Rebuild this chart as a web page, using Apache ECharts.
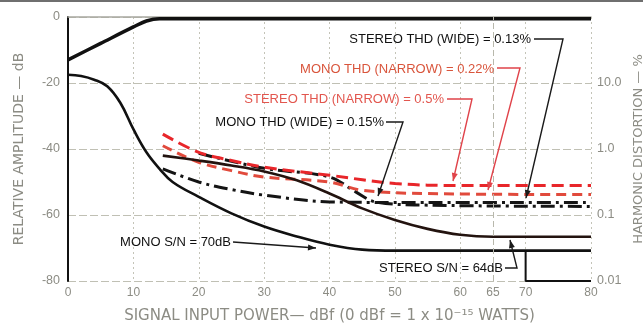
<!DOCTYPE html>
<html><head><meta charset="utf-8">
<script src="https://cdn.jsdelivr.net/npm/echarts@6/dist/echarts.min.js"></script>
<style>html,body{margin:0;padding:0;background:#fff}#c{width:643px;height:329px}</style>
</head><body><div id="c"></div>
<script>
// ---- data (x = signal input power, dBf) ----
const xTicks = [0, 10, 20, 30, 40, 50, 60, 70, 80];
const extraXTick = 65;
const leftTicks = [0, -20, -40, -60, -80];
const rightTickLabels = { 10: '10.0', 1: '1.0', 0.1: '0.1', 0.01: '0.01' };

// relative amplitude (dB, left axis)
const limitCurve = [[0,-13],[5,-8],[10,-3],[12,-1.2],[14,-0.5],[80,-0.5]];
const monoSN = [[0,-17.5],[2,-17.9],[4,-19],[6,-21],[8,-26],[10,-34],[12,-41],[14,-46],[16,-50],[20,-54.5],[25,-59.5],[30,-63.5],[35,-66.5],[40,-69],[45,-70.5],[50,-70.8],[80,-70.8]];
const stereoSN = [[14.5,-42],[20,-43.5],[25,-45],[30,-46.8],[35,-49.5],[40,-53.5],[45,-58],[50,-61.5],[55,-64.2],[60,-66],[65,-66.6],[80,-66.6]];
const stereoSNBox = [[70,-70.8],[70,-80],[80,-80]];

// harmonic distortion (%, right log axis)
const stereoTHDNarrow = [[14.5,1.68],[20,0.89],[25,0.67],[30,0.53],[40,0.40],[50,0.30],[60,0.28],[80,0.28]];
const monoTHDNarrow = [[14.5,1.12],[20,0.63],[25,0.47],[30,0.376],[40,0.316],[45,0.237],[55,0.211],[80,0.204]];
const monoTHDWide = [[14.5,0.50],[20,0.316],[25,0.243],[30,0.20],[40,0.158],[50,0.155],[80,0.155]];
const stereoTHDWide = [[20,0.86],[30,0.51],[40,0.376],[44,0.224],[47,0.158],[55,0.141],[80,0.135]];

const labels = {
  stereoTHDWide: 'STEREO THD (WIDE) = 0.13%',
  monoTHDNarrow: 'MONO THD (NARROW) = 0.22%',
  stereoTHDNarrow: 'STEREO THD (NARROW) = 0.5%',
  monoTHDWide: 'MONO THD (WIDE) = 0.15%',
  monoSN: 'MONO S/N = 70dB',
  stereoSN: 'STEREO S/N = 64dB'
};

const chart = echarts.init(document.getElementById('c'), null, {renderer:'canvas'});
const FONT = 'Liberation Sans';
const GRAY = '#8c8c84';

function leader(pts, color, text, tx, ty, tcolor) {
  const els = [];
  els.push({type:'text', x:tx, y:ty, style:{text:text, fill:tcolor||color, font:'13px "'+FONT+'"', textAlign:'right', textVerticalAlign:'middle'}, z:20});
  els.push({type:'polyline', shape:{points:pts}, style:{stroke:color, lineWidth:1.4, fill:null}, z:20});
  const a = pts[pts.length-2], b = pts[pts.length-1];
  const ang = Math.atan2(b[1]-a[1], b[0]-a[0]);
  const L = 8, W = 3;
  const p1 = [b[0]-L*Math.cos(ang)+W*Math.sin(ang), b[1]-L*Math.sin(ang)-W*Math.cos(ang)];
  const p2 = [b[0]-L*Math.cos(ang)-W*Math.sin(ang), b[1]-L*Math.sin(ang)+W*Math.cos(ang)];
  els.push({type:'polygon', shape:{points:[b,p1,p2]}, style:{fill:color}, z:20});
  return els;
}

const graphics = [].concat(
  [{type:'line', shape:{x1:0,y1:1,x2:643,y2:1}, style:{stroke:'#6f6f6f', lineWidth:2}}],
  leader([[534,39],[563,39],[526,198]], '#1a1a1a', labels.stereoTHDWide, 531, 39, '#111'),
  leader([[497,68],[520,68],[488,190]], '#e0434a', labels.monoTHDNarrow, 494, 69, '#d9553c'),
  leader([[447,99],[472,99],[453,181]], '#e0434a', labels.stereoTHDNarrow, 444, 99, '#e2564e'),
  leader([[386,122],[403,122],[378,196]], '#1a1a1a', labels.monoTHDWide, 384, 122, '#111'),
  leader([[233,242],[316,248]], '#1a1a1a', labels.monoSN, 231, 242, '#111'),
  leader([[505,268],[517,268],[510,240]], '#1a1a1a', labels.stereoSN, 503, 268, '#111')
);

const option = {
  animation:false,
  backgroundColor:'#fff',
  grid:{left:68, right:52, top:17, bottom:48, containLabel:false, outerBoundsMode:'none'},
  xAxis:[{
    type:'value', min:0, max:80, interval:10,
    axisLine:{show:true, lineStyle:{color:'#a8a8a0', width:1.5}},
    axisTick:{show:false},
    axisLabel:{color:GRAY, fontSize:12, fontFamily:FONT, margin:6,
      formatter:function(v){ return xTicks.indexOf(v)>=0 ? String(v) : ''; }},
    splitLine:{show:true, lineStyle:{color:'#c4c4b8', type:[2,3], width:1}},
    name:'SIGNAL INPUT POWER— dBf (0 dBf = 1 x 10⁻¹⁵ WATTS)',
    nameLocation:'middle', nameGap:28,
    nameTextStyle:{color:GRAY, fontSize:15, fontFamily:'DejaVu Sans'}
  },{
    type:'value', min:0, max:80, interval:5, position:'bottom',
    axisLine:{show:false}, axisTick:{show:false}, splitLine:{show:false},
    axisLabel:{color:GRAY, fontSize:12, fontFamily:FONT, margin:6,
      formatter:function(v){ return v===extraXTick ? String(v) : ''; }}
  }],
  yAxis:[{
    type:'value', min:-80, max:0, interval:20,
    axisLine:{show:true, lineStyle:{color:'#a8a8a0', width:1.5}},
    axisTick:{show:false},
    axisLabel:{color:GRAY, fontSize:12.5, fontFamily:FONT, margin:8,
      formatter:function(v){ return leftTicks.indexOf(v)>=0 ? String(v) : ''; }},
    splitLine:{show:true, lineStyle:{color:'#c0c0b4', type:[8,3], width:1}},
    name:'RELATIVE AMPLITUDE — dB', nameLocation:'middle', nameGap:42, nameRotate:90,
    nameTextStyle:{color:GRAY, fontSize:14, fontFamily:'DejaVu Sans'}
  },{
    type:'log', logBase:10, min:0.01, max:100, position:'right',
    axisLine:{show:true, lineStyle:{color:'#111', width:2}},
    axisTick:{show:false},
    splitLine:{show:false},
    axisLabel:{color:GRAY, fontSize:12.5, fontFamily:FONT, margin:6,
      formatter:function(v){
        for (const k in rightTickLabels) { if (Math.abs(Math.log10(v)-Math.log10(+k))<1e-6) return rightTickLabels[k]; }
        return '';
      }},
    name:'HARMONIC DISTORTION — %', nameLocation:'middle', nameGap:36, nameRotate:90,
    nameTextStyle:{color:GRAY, fontSize:13, fontFamily:'DejaVu Sans'}
  }],
  graphic:graphics,
  series:[
    {type:'line', data:stereoTHDWide, yAxisIndex:1, smooth:0.35, symbol:'none',
      lineStyle:{color:'#141414', width:3, type:[14,5,3,5]}},
    {type:'line', data:monoTHDWide, yAxisIndex:1, smooth:0.35, symbol:'none',
      lineStyle:{color:'#141414', width:3, type:[14,5,3,5]},
      markLine:{silent:true, symbol:'none', label:{show:false},
        lineStyle:{color:'#b8b8ac', type:[6,3], width:1}, data:[{xAxis:extraXTick}]}},
    {type:'line', data:stereoTHDNarrow, yAxisIndex:1, smooth:0.35, symbol:'none',
      lineStyle:{color:'#e8262a', width:3, type:[12,6]}},
    {type:'line', data:monoTHDNarrow, yAxisIndex:1, smooth:0.35, symbol:'none',
      lineStyle:{color:'#e14a3c', width:3, type:[10,6]}},
    {type:'line', data:stereoSN, smooth:0.35, symbol:'none',
      lineStyle:{color:'#23130f', width:2.6}},
    {type:'line', data:monoSN, smooth:0.4, symbol:'none',
      lineStyle:{color:'#111', width:2.6}},
    {type:'line', data:limitCurve, smooth:0.3, symbol:'none',
      lineStyle:{color:'#111', width:3.5}},
    {type:'line', data:stereoSNBox, symbol:'none',
      lineStyle:{color:'#111', width:2}}
  ]
};
chart.setOption(option);
</script></body></html>
